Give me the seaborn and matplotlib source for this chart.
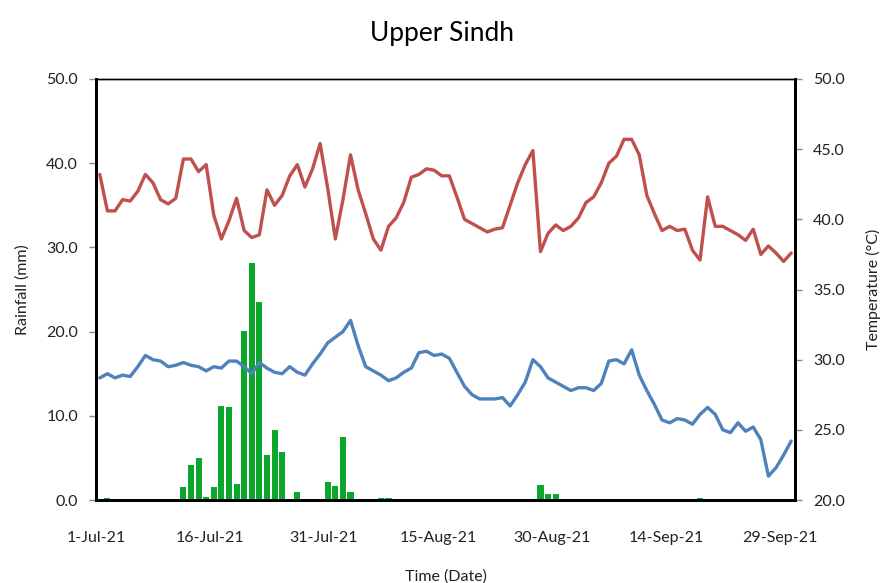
import numpy as np
import pandas as pd
import matplotlib
matplotlib.use("Agg")
import matplotlib.pyplot as plt
import seaborn as sns

# Daily observations, 1 Jul 2021 - 30 Sep 2021
dates = pd.date_range("2021-07-01", "2021-09-30", freq="D")

rainfall_mm = [
    0.1, 0.2, 0.1, 0.1, 0.0, 0.0, 0.0, 0.0, 0.0, 0.0, 0.0, 1.5, 4.2, 5.0, 0.4, 1.5,
    11.2, 11.0, 1.9, 20.1, 28.1, 23.5, 5.3, 8.3, 5.7, 0.1, 1.0, 0.1, 0.1, 0.1,
    2.1, 1.7, 7.5, 0.9, 0.0, 0.0, 0.1, 0.2, 0.2, 0.1, 0.0, 0.0, 0.0, 0.0, 0.1,
    0.0, 0.1, 0.1, 0.1, 0.0, 0.0, 0.0, 0.0, 0.0, 0.0, 0.0, 0.0, 0.1, 1.8, 0.7,
    0.7, 0.0, 0.0, 0.0, 0.0, 0.0, 0.0, 0.0, 0.0, 0.0, 0.0, 0.0, 0.0, 0.1, 0.1,
    0.0, 0.0, 0.0, 0.0, 0.2, 0.1, 0.1, 0.0, 0.0, 0.0, 0.0, 0.0, 0.0, 0.0, 0.0,
    0.0, 0.0,
]

temp_max = [
    43.2, 40.6, 40.6, 41.4, 41.3, 42.0, 43.2, 42.6, 41.4, 41.1, 41.5, 44.3, 44.3,
    43.4, 43.9, 40.3, 38.6, 39.9, 41.5, 39.2, 38.7, 38.9, 42.1, 41.0, 41.7, 43.1,
    43.9, 42.3, 43.6, 45.4, 42.2, 38.6, 41.4, 44.6, 42.1, 40.4, 38.6, 37.8, 39.5,
    40.1, 41.2, 43.0, 43.2, 43.6, 43.5, 43.1, 43.1, 41.6, 40.0, 39.7, 39.4, 39.1,
    39.3, 39.4, 41.0, 42.6, 43.9, 44.9, 37.7, 39.0, 39.6, 39.2, 39.5, 40.1, 41.2,
    41.6, 42.6, 44.0, 44.5, 45.7, 45.7, 44.6, 41.7, 40.4, 39.2, 39.5, 39.2, 39.3,
    37.8, 37.1, 41.6, 39.5, 39.5, 39.2, 38.9, 38.5, 39.3, 37.5, 38.1, 37.6, 37.0,
    37.6,
]

temp_min = [
    28.7, 29.0, 28.7, 28.9, 28.8, 29.5, 30.3, 30.0, 29.9, 29.5, 29.6, 29.8, 29.6,
    29.5, 29.2, 29.5, 29.4, 29.9, 29.9, 29.5, 29.0, 29.8, 29.4, 29.1, 29.0, 29.5,
    29.1, 28.9, 29.7, 30.4, 31.2, 31.6, 32.0, 32.8, 31.0, 29.5, 29.2, 28.9, 28.5,
    28.7, 29.1, 29.4, 30.5, 30.6, 30.3, 30.4, 30.1, 29.1, 28.1, 27.5, 27.2, 27.2,
    27.2, 27.3, 26.7, 27.5, 28.4, 30.0, 29.5, 28.7, 28.4, 28.1, 27.8, 28.0, 28.0,
    27.8, 28.3, 29.9, 30.0, 29.7, 30.7, 28.9, 27.8, 26.8, 25.7, 25.5, 25.8, 25.7,
    25.4, 26.1, 26.6, 26.1, 25.0, 24.8, 25.5, 24.9, 25.2, 24.3, 21.7, 22.3, 23.2,
    24.2,
]

title = "Upper Sindh"
rain_label = "Rainfall (mm)"
temp_label = "Temperature (°C)"
x_label = "Time (Date)"

df = pd.DataFrame({
    "day": np.arange(len(dates)),
    "rain": rainfall_mm,
    "tmax": temp_max,
    "tmin": temp_min,
})

sns.set_theme(style="white")
plt.rcParams["font.family"] = ["Lato", "DejaVu Sans"]

fig = plt.figure(figsize=(8.85, 5.83), dpi=100)
ax = fig.add_axes([96 / 885, 83 / 583, (795 - 96) / 885, (500 - 79) / 583])

green = "#0BA62B"
red = "#C0504D"
blue = "#4F81BD"
text_col = "#222222"

sns.barplot(data=df, x="day", y="rain", ax=ax, color=green, width=0.8,
            saturation=1, native_scale=True, edgecolor="none")
ax.set_xlim(-0.5, len(dates) - 0.5)
ax.set_ylim(0, 50)
ax.set_yticks(np.arange(0, 51, 10))
ax.set_yticklabels([f"{v:.1f}" for v in np.arange(0, 51, 10)])

ax2 = ax.twinx()
sns.lineplot(data=df, x="day", y="tmax", ax=ax2, color=red, linewidth=2.4)
sns.lineplot(data=df, x="day", y="tmin", ax=ax2, color=blue, linewidth=2.4)
ax2.set_xlim(-0.5, len(dates) - 0.5)
ax2.set_ylim(20, 50)
ax2.set_yticks(np.arange(20, 51, 5))
ax2.set_yticklabels([f"{v:.1f}" for v in np.arange(20, 51, 5)])

# Date ticks every 15 days at the left edge of each day
tick_idx = list(range(0, len(dates), 15))
ax.set_xticks([i - 0.5 for i in tick_idx])
ax.set_xticklabels([f"{dates[i].day}-{dates[i].strftime('%b')}-{dates[i].strftime('%y')}"
                    for i in tick_idx])

for a in (ax, ax2):
    a.tick_params(axis="both", direction="out", length=5, width=1,
                  color="#888888", labelsize=11.5, labelcolor=text_col, pad=4)
    for side in ("left", "right", "bottom"):
        a.spines[side].set_color("black")
        a.spines[side].set_linewidth(2)
    a.spines["top"].set_color("black")
    a.spines["top"].set_linewidth(1)
ax.tick_params(axis="x", pad=17)
ax.tick_params(axis="y", pad=8)
ax2.tick_params(axis="y", pad=8)

ax.set_xlabel(x_label, fontsize=11.5, color=text_col, labelpad=18)
ax.set_ylabel(rain_label, fontsize=11.5, color=text_col, labelpad=12)
ax2.set_ylabel(temp_label, fontsize=11.5, color=text_col, labelpad=15)
ax2.set_xlabel("")
fig.text(0.5, 1 - 33 / 583, title, ha="center", va="center",
         fontsize=19, color="black")

fig.savefig("out.png", dpi=100, facecolor="white")
